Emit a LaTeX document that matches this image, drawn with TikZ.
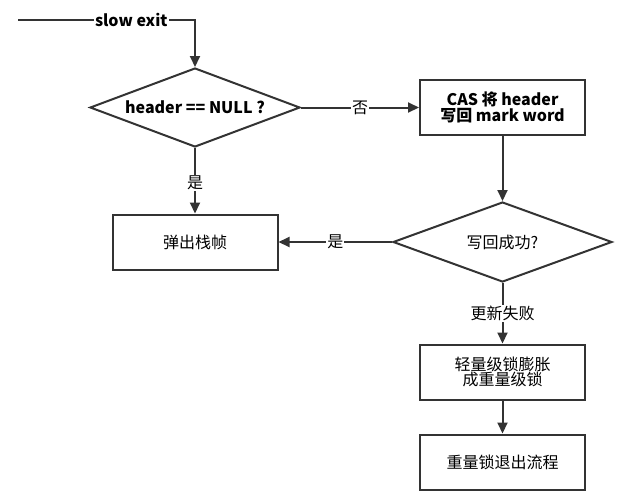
\documentclass[tikz,border=0pt]{standalone}
\usepackage{fontspec}
\setmainfont{Noto Sans CJK SC}
\usetikzlibrary{arrows.meta,shapes.geometric}
\definecolor{ln}{HTML}{333333}
\begin{document}
\begin{tikzpicture}[x=1pt,y=-1pt,
  font=\fontsize{16}{18.5}\selectfont,
  arr/.style={draw=ln,line width=2pt,-{Triangle[length=11pt,width=10pt]}},
  proc/.style={draw=ln,line width=2pt,rectangle,minimum width=165pt,minimum height=55pt,align=center,inner sep=0pt,text=black},
  dec/.style={draw=ln,line width=2pt,shape=diamond,inner sep=0pt},
  lab/.style={fill=white,inner sep=1pt,text=black}]
\useasboundingbox (0,0) rectangle (632,499);
\coordinate (s) at (18,20);
\coordinate (k) at (195,20);
\node[dec,minimum width=210pt,minimum height=79pt] (d1) at (195,107.5) {};
\node[text=black] (t1) at (d1.center) {\bfseries header == NULL ?};
\node[proc] (cas) at (502.5,107.5) {\bfseries CAS 将 header\\[-3pt]\bfseries 写回 mark word};
\node[dec,minimum width=219pt,minimum height=80pt] (d2) at (502.5,242) {};
\node[text=black] (t2) at (d2.center) {写回成功?};
\node[proc] (pop) at (195,242) {弹出栈帧};
\node[proc] (inf) at (502.5,372) {轻量级锁膨胀\\[-3pt]成重量级锁};
\node[proc] (ex) at (502.5,462) {重量锁退出流程};
\draw[arr] (s) -- (k) node[lab,pos=0.64,font=\fontsize{16}{18.5}\selectfont\bfseries] {slow exit} -- (d1.north);
\draw[arr] (d1.east) -- (cas.west) node[lab,pos=0.5] {否};
\draw[arr] (d1.south) -- (pop.north) node[lab,pos=0.53] {是};
\draw[arr] (cas.south) -- (d2.north);
\draw[arr] (d2.west) -- (pop.east) node[lab,pos=0.5] {是};
\draw[arr] (d2.south) -- (inf.north) node[lab,pos=0.5] {更新失败};
\draw[arr] (inf.south) -- (ex.north);
\end{tikzpicture}
\end{document}
